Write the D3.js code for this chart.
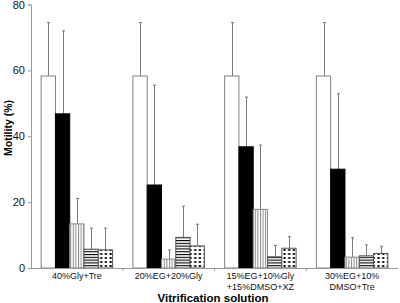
<!DOCTYPE html>
<html>
<head>
<meta charset="utf-8">
<script src="https://cdn.jsdelivr.net/npm/d3@7"></script>
<style>
  body { margin: 0; background: #fff; }
  svg { display: block; font-family: "Liberation Sans", Arial, sans-serif; }
</style>
</head>
<body>
<svg id="chart"></svg>
<script>
"use strict";

// =================== DATASET ===================
const categories = [
  ["40%Gly+Tre"],
  ["20%EG+20%Gly"],
  ["15%EG+10%Gly", "+15%DMSO+XZ"],
  ["30%EG+10%", "DMSO+Tre"]
];
const seriesKeys = ["white", "black", "vstripe", "hstripe", "dots"];
const means = [
  [58.3, 58.3, 58.3, 58.3],
  [46.8, 25.2, 36.8, 30.0],
  [13.4, 2.7, 17.8, 3.3],
  [5.7, 9.3, 3.4, 3.7],
  [5.5, 6.7, 6.0, 4.4]
];
const sds = [
  [16.2, 16.2, 16.2, 16.2],
  [25.2, 30.3, 15.1, 22.9],
  [7.7, 2.8, 19.5, 5.9],
  [6.4, 9.5, 3.4, 3.3],
  [6.6, 6.6, 3.5, 2.2]
];
const yTicks = [0, 20, 40, 60, 80];

// =================== CHART SETUP ===================
const svgWidth = 400, svgHeight = 303;
const svg = d3.select("#chart").attr("width", svgWidth).attr("height", svgHeight);
const axisColor = "#999";

const catIdx = categories.map((c, i) => i);
const x0 = d3.scaleBand().domain(catIdx).range([31, 398]);
const x1 = d3.scaleBand().domain(seriesKeys).range([0, x0.bandwidth()]).paddingOuter(0.71);
const y = d3.scaleLinear().domain([0, 80]).range([268, 4.5]);

// =================== PATTERNS ===================
const defs = svg.append("defs");
const pv = defs.append("pattern").attr("id", "vstripe").attr("patternUnits", "userSpaceOnUse")
  .attr("width", 2.6).attr("height", 4);
pv.append("rect").attr("width", 2.6).attr("height", 4).attr("fill", "#fff");
pv.append("rect").attr("x", 0).attr("width", 1).attr("height", 4).attr("fill", "#8a8a8a");

const ph = defs.append("pattern").attr("id", "hstripe").attr("patternUnits", "userSpaceOnUse")
  .attr("width", 4).attr("height", 2.8).attr("y", 268);
ph.append("rect").attr("width", 4).attr("height", 2.8).attr("fill", "#fff");
ph.append("rect").attr("y", 0).attr("width", 4).attr("height", 1.1).attr("fill", "#000");

const pd = defs.append("pattern").attr("id", "dots").attr("patternUnits", "userSpaceOnUse")
  .attr("width", 4.7).attr("height", 4).attr("y", 268);
pd.append("rect").attr("width", 4.7).attr("height", 4).attr("fill", "#fff");
pd.append("rect").attr("x", 1.5).attr("y", 1).attr("width", 2).attr("height", 2).attr("fill", "#000");

const fills = { white: "#fff", black: "#000", vstripe: "url(#vstripe)", hstripe: "url(#hstripe)", dots: "url(#dots)" };
const strokes = { white: "#808080", black: "#000", vstripe: "#8a8a8a", hstripe: "#555", dots: "#555" };

// =================== BARS ===================
const rows = [];
seriesKeys.forEach((k, s) => {
  catIdx.forEach(c => rows.push({ key: k, cat: c, mean: means[s][c], sd: sds[s][c] }));
});

// error bars (upper only)
const err = svg.append("g").attr("stroke", "#7a7a7a").attr("stroke-width", 1);
rows.forEach(d => {
  const cx = Math.round(x0(d.cat) + x1(d.key) + x1.bandwidth() / 2) + 0.5;
  err.append("line").attr("x1", cx).attr("x2", cx)
    .attr("y1", y(d.mean)).attr("y2", y(d.mean + d.sd));
  err.append("line").attr("x1", cx - 1.5).attr("x2", cx + 1.5)
    .attr("y1", y(d.mean + d.sd)).attr("y2", y(d.mean + d.sd));
});

svg.append("g").selectAll("rect")
  .data(rows)
  .enter()
  .append("rect")
  .attr("x", d => x0(d.cat) + x1(d.key))
  .attr("y", d => y(d.mean))
  .attr("width", x1.bandwidth())
  .attr("height", d => y(0) - y(d.mean))
  .attr("fill", d => fills[d.key])
  .attr("stroke", d => strokes[d.key])
  .attr("stroke-width", 1);

// =================== AXES ===================
const yAxis = svg.append("g").attr("transform", "translate(31,0)")
  .call(d3.axisLeft(y).tickValues(yTicks).tickSize(3).tickPadding(3));
yAxis.select(".domain").attr("stroke", axisColor);
yAxis.selectAll(".tick line").attr("stroke", axisColor);
yAxis.selectAll(".tick text").style("font-size", "11px").attr("fill", "#111");

svg.append("line").attr("x1", 31).attr("x2", 398).attr("y1", 268.5).attr("y2", 268.5)
  .attr("stroke", axisColor);
catIdx.slice(1).forEach(c => {
  svg.append("line").attr("x1", x0(c)).attr("x2", x0(c)).attr("y1", 268).attr("y2", 271)
    .attr("stroke", axisColor);
});

// category labels
catIdx.forEach(c => {
  const t = svg.append("text")
    .attr("x", x0(c) + x0.bandwidth() / 2)
    .attr("y", 278.5)
    .attr("text-anchor", "middle")
    .style("font-size", "9px")
    .attr("fill", "#111");
  categories[c].forEach((line, i) => {
    t.append("tspan").attr("x", x0(c) + x0.bandwidth() / 2).attr("dy", i ? 11 : 0).text(line);
  });
});

// =================== AXIS LABELS ===================
svg.append("text")
  .attr("x", 213).attr("y", 301.5)
  .attr("text-anchor", "middle")
  .style("font-weight", "700")
  .style("font-size", "11.5px")
  .text("Vitrification solution");

svg.append("text")
  .attr("transform", "rotate(-90)")
  .attr("x", -128).attr("y", 12)
  .attr("text-anchor", "middle")
  .style("font-weight", "700")
  .style("font-size", "10.5px")
  .text("Motility (%)");
</script>
</body>
</html>
